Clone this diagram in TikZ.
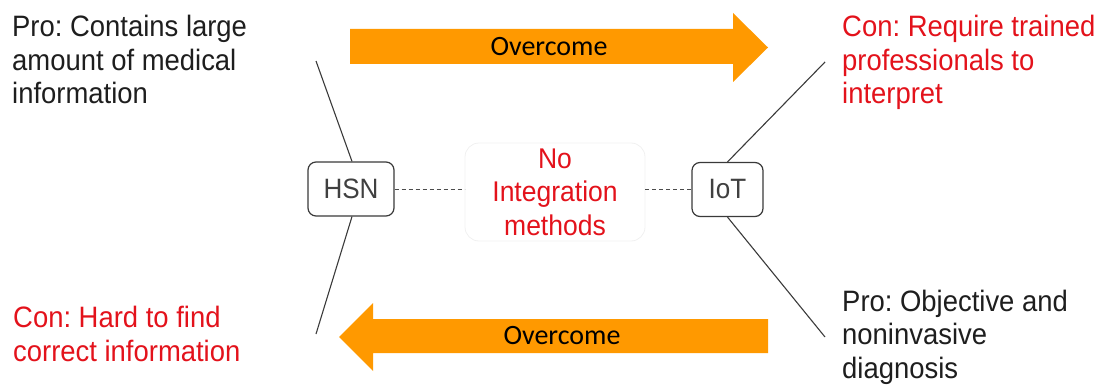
\documentclass[tikz,border=0pt]{standalone}
\usepackage{fontspec}
\setmainfont{Liberation Sans}
\newfontfamily\notefont[FakeStretch=0.93]{Liberation Sans}
\newfontfamily\arrowfont{Carlito}
\definecolor{conred}{HTML}{E3121B}
\definecolor{flow}{HTML}{FF9900}
\definecolor{ink}{HTML}{1E1E1E}
\definecolor{boxline}{HTML}{3A3A3A}
\frenchspacing
\begin{document}
\begin{tikzpicture}[x=1pt,y=-1pt,
  % multi-line notes are placed by the baseline of their last line
  note/.style={anchor=base west,align=left,inner sep=0pt,
    font=\notefont\fontsize{29.5}{33.5}\selectfont},
  pro/.style={note,text=ink},
  con/.style={note,text=conred},
  system/.style={draw=boxline,line width=1.2pt,rounded corners=8pt,fill=white,
    minimum width=#1,minimum height=54pt,inner sep=0pt,text=black!75,
    font=\notefont\fontsize{28}{32}\selectfont},
  gap/.style={draw=black!6,line width=0.8pt,rounded corners=14pt,
    minimum width=180pt,minimum height=98pt,inner sep=0pt,text=conred,align=center,
    font=\notefont\fontsize{28.5}{33.5}\selectfont},
  link/.style={draw=boxline,line width=1.1pt},
  missing/.style={draw=black!70,line width=1pt,dash pattern=on 4pt off 3pt},
  flowarrow/.style={fill=flow},
  flowtext/.style={inner sep=0pt,text=black,font=\arrowfont\fontsize{28}{32}\selectfont}
]
\useasboundingbox (0,0) rectangle (1102,385);

% the two systems and the missing link between them
\node[system=86pt]  (hsn) at (351,189) {HSN};
\node[system=71pt]  (iot) at (727.5,189.5) {IoT};
\node[gap] (none) at (555,192) {No\\Integration\\methods};
\draw[missing] (hsn.east) -- (none.west |- hsn.east);
\draw[missing] (none.east |- iot.west) -- (iot.west);

% pros and cons of each side
\node[pro] (hsnpro) at (12,104) {Pro: Contains large\\amount of medical\\information};
\node[con] (hsncon) at (13,361) {Con: Hard to find\\correct information};
\node[con] (iotcon) at (842,104) {Con: Require trained\\professionals to\\interpret};
\node[pro] (iotpro) at (842,378) {Pro: Objective and\\noninvasive\\diagnosis};

\coordinate (hsnup)   at (316,61);
\coordinate (hsndown) at (316,334);
\coordinate (iotup)   at (825,62);
\coordinate (iotdown) at (825,337);
\draw[link] (hsnup) -- ([xshift=1pt]hsn.north);
\draw[link] ([xshift=1pt]hsn.south) -- (hsndown);
\draw[link] (iotup) -- (iot.north);
\draw[link] (iot.south) -- (iotdown);

% each side overcomes the other's weakness
\fill[flowarrow] (350,29) -- (733,29) -- (733,13) -- (768,47.5) -- (733,82)
  -- (733,64) -- (350,64) -- cycle;
\node[flowtext] (fwd) at (549,47) {Overcome};
\fill[flowarrow] (768,319) -- (373,319) -- (373,303) -- (339,337) -- (373,371)
  -- (373,353) -- (768,353) -- cycle;
\node[flowtext] (back) at (562,336) {Overcome};
\end{tikzpicture}
\end{document}
